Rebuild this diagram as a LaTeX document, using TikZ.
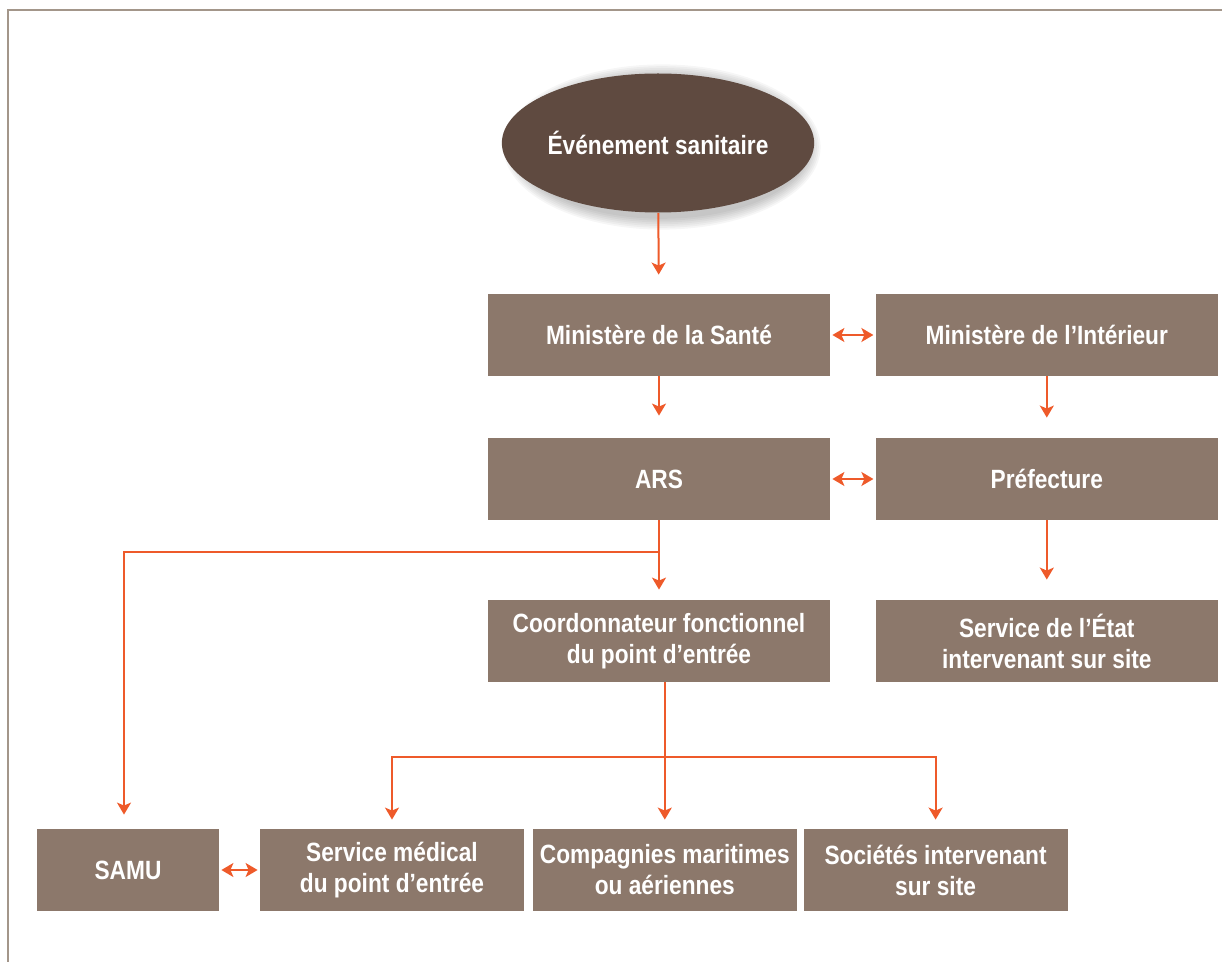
\documentclass[tikz,border=0pt]{standalone}
\usepackage{fontspec}
\setmainfont{Liberation Sans}[FakeStretch=0.86]
\usepackage{tikz}
\usetikzlibrary{arrows.meta,positioning,shapes.geometric,backgrounds}
\definecolor{boxfill}{HTML}{8C786B}
\definecolor{eventfill}{HTML}{5F4A40}
\definecolor{arrowred}{HTML}{EE5A2A}
\definecolor{framecol}{HTML}{A3968A}

\begin{document}
\begin{tikzpicture}[
  x=0.5pt, y=-0.5pt,
  font=\fontsize{13.2pt}{15.5pt}\selectfont\bfseries,
  node distance=22.5pt,
  orgbox/.style={fill=boxfill, text=white, minimum width=171pt,
    minimum height=41pt, inner sep=2pt, align=center},
  lowbox/.style={orgbox, minimum width=132pt},
  eventnode/.style={ellipse, fill=eventfill, text=white, inner sep=0pt,
    minimum width=146pt, minimum height=69.5pt},
  flowline/.style={-{Stealth[length=6pt, width=7pt, inset=1.5pt]},
    draw=arrowred, line width=1pt},
  bothline/.style={{Stealth[length=6pt, width=7pt, inset=1.5pt]}-{Stealth[length=6pt, width=7pt, inset=1.5pt]},
    draw=arrowred, line width=1pt, shorten <=1pt, shorten >=1pt},
]
  \useasboundingbox (0,0) rectangle (1222,962);
  \draw[framecol, line width=1pt] (8,962) -- (8,10) -- (1222,10);

  % top of the chain
  \node[eventnode] (event) at (658,143) {Événement sanitaire};
  \node[orgbox] (sante) at (659,335) {Ministère de la Santé};
  \node[orgbox, right=of sante] (interieur) {Ministère de l’Intérieur};
  \node[orgbox] (ars) at (659,479) {ARS};
  \node[orgbox, right=of ars] (prefecture) {Préfecture};
  \node[orgbox] (coord) at (659,641) {Coordonnateur fonctionnel\\du point d’entrée};
  \node[orgbox, right=of coord] (etat) {Service de l’État\\intervenant sur site};

  % soft shadow under the event
  \begin{scope}[on background layer]
    \foreach \k in {1,...,7}
      \fill[black, opacity=0.035] ([shift={(2pt,-2pt)}]event.center)
        ellipse [x radius={146+1.8*\k}, y radius={70+1.8*\k}];
  \end{scope}

  % field level
  \node[orgbox, minimum width=91pt] (samu) at (128,870) {SAMU};
  \node[lowbox] (medical) at (392,870) {Service médical\\du point d’entrée};
  \node[lowbox, right=4pt of medical] (compagnies) {Compagnies maritimes\\ou aériennes};
  \node[lowbox, right=3pt of compagnies] (societes) {Sociétés intervenant\\sur site};

  \draw[flowline, shorten >=9.5pt] (event) -- (sante);
  \draw[flowline, shorten >=11pt] (sante) -- (ars);
  \draw[flowline, shorten >=10pt] (interieur) -- (prefecture);
  \draw[flowline, shorten >=10pt] (prefecture) -- (etat);
  \draw[bothline] (sante) -- (interieur);
  \draw[bothline] (ars) -- (prefecture);
  \draw[bothline] (samu) -- (medical);

  \draw[flowline, shorten >=5pt] (ars) -- (coord);
  \draw[flowline, shorten >=7pt] (ars.south) -- ++(0,32) -| ([xshift=-2pt]samu.north);

  \coordinate (split) at (665,757);
  \draw[flowline, shorten >=4.5pt] (coord.south -| compagnies.north) -- (compagnies.north);
  \draw[flowline, shorten >=4.5pt] (split) -| (medical.north);
  \draw[flowline, shorten >=4.5pt] (split) -| (societes.north);
\end{tikzpicture}
\end{document}
